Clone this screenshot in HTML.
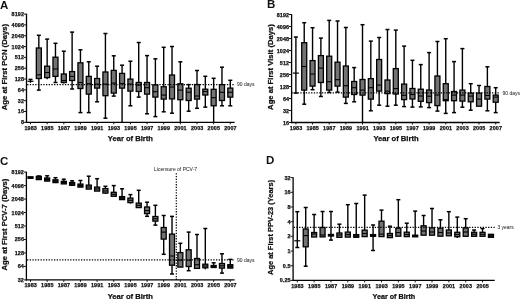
<!DOCTYPE html>
<html><head><meta charset="utf-8"><style>
html,body{margin:0;padding:0;background:#fff;width:520px;height:299px;overflow:hidden}
svg{display:block;will-change:transform;filter:blur(0.25px)}
text{font-family:"Liberation Sans", sans-serif;fill:#111}
.tk{font-size:5.4px;font-weight:bold;letter-spacing:0.12px;stroke:#111;stroke-width:0.25px}
.rl{font-size:5px;font-weight:normal}
.pl{font-size:11.5px;font-weight:bold}
.at{font-size:7.5px;font-weight:bold;stroke:#111;stroke-width:0.25px}
</style></head><body>
<svg width="520" height="299" viewBox="0 0 520 299">
<line x1="26.5" y1="13.7" x2="26.5" y2="122.95" stroke="#000" stroke-width="1.3"/>
<line x1="25.85" y1="122.3" x2="234.6" y2="122.3" stroke="#000" stroke-width="1.3"/>
<line x1="23.9" y1="122.30" x2="26.5" y2="122.30" stroke="#141414" stroke-width="1"/>
<text x="24.10" y="124.30" class="tk" text-anchor="end">8</text>
<line x1="23.9" y1="111.48" x2="26.5" y2="111.48" stroke="#141414" stroke-width="1"/>
<text x="24.10" y="113.48" class="tk" text-anchor="end">16</text>
<line x1="23.9" y1="100.66" x2="26.5" y2="100.66" stroke="#141414" stroke-width="1"/>
<text x="24.10" y="102.66" class="tk" text-anchor="end">32</text>
<line x1="23.9" y1="89.84" x2="26.5" y2="89.84" stroke="#141414" stroke-width="1"/>
<text x="24.10" y="91.84" class="tk" text-anchor="end">64</text>
<line x1="23.9" y1="79.02" x2="26.5" y2="79.02" stroke="#141414" stroke-width="1"/>
<text x="24.10" y="81.02" class="tk" text-anchor="end">128</text>
<line x1="23.9" y1="68.20" x2="26.5" y2="68.20" stroke="#141414" stroke-width="1"/>
<text x="24.10" y="70.20" class="tk" text-anchor="end">256</text>
<line x1="23.9" y1="57.38" x2="26.5" y2="57.38" stroke="#141414" stroke-width="1"/>
<text x="24.10" y="59.38" class="tk" text-anchor="end">512</text>
<line x1="23.9" y1="46.56" x2="26.5" y2="46.56" stroke="#141414" stroke-width="1"/>
<text x="24.10" y="48.56" class="tk" text-anchor="end">1024</text>
<line x1="23.9" y1="35.74" x2="26.5" y2="35.74" stroke="#141414" stroke-width="1"/>
<text x="24.10" y="37.74" class="tk" text-anchor="end">2048</text>
<line x1="23.9" y1="24.92" x2="26.5" y2="24.92" stroke="#141414" stroke-width="1"/>
<text x="24.10" y="26.92" class="tk" text-anchor="end">4096</text>
<line x1="23.9" y1="14.10" x2="26.5" y2="14.10" stroke="#141414" stroke-width="1"/>
<text x="24.10" y="16.10" class="tk" text-anchor="end">8192</text>
<line x1="30.50" y1="122.3" x2="30.50" y2="124.3" stroke="#141414" stroke-width="1"/>
<text x="30.65" y="129.70" class="tk" text-anchor="middle">1983</text>
<line x1="47.15" y1="122.3" x2="47.15" y2="124.3" stroke="#141414" stroke-width="1"/>
<text x="47.30" y="129.70" class="tk" text-anchor="middle">1985</text>
<line x1="63.80" y1="122.3" x2="63.80" y2="124.3" stroke="#141414" stroke-width="1"/>
<text x="63.95" y="129.70" class="tk" text-anchor="middle">1987</text>
<line x1="80.45" y1="122.3" x2="80.45" y2="124.3" stroke="#141414" stroke-width="1"/>
<text x="80.60" y="129.70" class="tk" text-anchor="middle">1989</text>
<line x1="97.10" y1="122.3" x2="97.10" y2="124.3" stroke="#141414" stroke-width="1"/>
<text x="97.25" y="129.70" class="tk" text-anchor="middle">1991</text>
<line x1="113.75" y1="122.3" x2="113.75" y2="124.3" stroke="#141414" stroke-width="1"/>
<text x="113.90" y="129.70" class="tk" text-anchor="middle">1993</text>
<line x1="130.40" y1="122.3" x2="130.40" y2="124.3" stroke="#141414" stroke-width="1"/>
<text x="130.55" y="129.70" class="tk" text-anchor="middle">1995</text>
<line x1="147.05" y1="122.3" x2="147.05" y2="124.3" stroke="#141414" stroke-width="1"/>
<text x="147.20" y="129.70" class="tk" text-anchor="middle">1997</text>
<line x1="163.70" y1="122.3" x2="163.70" y2="124.3" stroke="#141414" stroke-width="1"/>
<text x="163.85" y="129.70" class="tk" text-anchor="middle">1999</text>
<line x1="180.35" y1="122.3" x2="180.35" y2="124.3" stroke="#141414" stroke-width="1"/>
<text x="180.50" y="129.70" class="tk" text-anchor="middle">2001</text>
<line x1="197.00" y1="122.3" x2="197.00" y2="124.3" stroke="#141414" stroke-width="1"/>
<text x="197.15" y="129.70" class="tk" text-anchor="middle">2003</text>
<line x1="213.65" y1="122.3" x2="213.65" y2="124.3" stroke="#141414" stroke-width="1"/>
<text x="213.80" y="129.70" class="tk" text-anchor="middle">2005</text>
<line x1="230.30" y1="122.3" x2="230.30" y2="124.3" stroke="#141414" stroke-width="1"/>
<text x="230.45" y="129.70" class="tk" text-anchor="middle">2007</text>
<text x="237.1" y="86.40" class="rl">90 days</text>
<line x1="30.50" y1="79.4" x2="30.50" y2="81.3" stroke="#000" stroke-width="1.4"/>
<line x1="28.50" y1="79.4" x2="32.50" y2="79.4" stroke="#000" stroke-width="1.5"/>
<line x1="30.50" y1="81.3" x2="30.50" y2="82.8" stroke="#000" stroke-width="1.4"/>
<line x1="27.50" y1="81.3" x2="33.50" y2="81.3" stroke="#000" stroke-width="1.2"/>
<line x1="38.83" y1="35.3" x2="38.83" y2="48.0" stroke="#000" stroke-width="1.4"/>
<line x1="36.83" y1="35.3" x2="40.83" y2="35.3" stroke="#000" stroke-width="1.5"/>
<line x1="38.83" y1="78.5" x2="38.83" y2="90.1" stroke="#000" stroke-width="1.4"/>
<line x1="36.83" y1="90.1" x2="40.83" y2="90.1" stroke="#000" stroke-width="1.5"/>
<rect x="36.33" y="48.0" width="5.0" height="30.50" fill="#737373" stroke="#000" stroke-width="1.3"/>
<line x1="36.33" y1="74.8" x2="41.33" y2="74.8" stroke="#000" stroke-width="1.1"/>
<line x1="47.15" y1="39.1" x2="47.15" y2="66.2" stroke="#000" stroke-width="1.4"/>
<line x1="45.15" y1="39.1" x2="49.15" y2="39.1" stroke="#000" stroke-width="1.5"/>
<line x1="47.15" y1="77.6" x2="47.15" y2="79.2" stroke="#000" stroke-width="1.4"/>
<rect x="44.65" y="66.2" width="5.0" height="11.40" fill="#737373" stroke="#000" stroke-width="1.3"/>
<line x1="44.65" y1="72.5" x2="49.65" y2="72.5" stroke="#000" stroke-width="1.1"/>
<line x1="55.47" y1="43.3" x2="55.47" y2="57.2" stroke="#000" stroke-width="1.4"/>
<line x1="53.47" y1="43.3" x2="57.47" y2="43.3" stroke="#000" stroke-width="1.5"/>
<line x1="55.47" y1="76.4" x2="55.47" y2="82.5" stroke="#000" stroke-width="1.4"/>
<line x1="53.47" y1="82.5" x2="57.47" y2="82.5" stroke="#000" stroke-width="1.5"/>
<rect x="52.97" y="57.2" width="5.0" height="19.20" fill="#737373" stroke="#000" stroke-width="1.3"/>
<line x1="52.97" y1="69.0" x2="57.97" y2="69.0" stroke="#000" stroke-width="1.1"/>
<line x1="63.80" y1="51.2" x2="63.80" y2="74.0" stroke="#000" stroke-width="1.4"/>
<line x1="61.80" y1="51.2" x2="65.80" y2="51.2" stroke="#000" stroke-width="1.5"/>
<line x1="63.80" y1="82.5" x2="63.80" y2="83.5" stroke="#000" stroke-width="1.4"/>
<rect x="61.30" y="74.0" width="5.0" height="8.50" fill="#737373" stroke="#000" stroke-width="1.3"/>
<line x1="61.30" y1="80.5" x2="66.30" y2="80.5" stroke="#000" stroke-width="1.1"/>
<line x1="72.12" y1="32.1" x2="72.12" y2="71.6" stroke="#000" stroke-width="1.4"/>
<line x1="70.12" y1="32.1" x2="74.12" y2="32.1" stroke="#000" stroke-width="1.5"/>
<line x1="72.12" y1="80.5" x2="72.12" y2="89.0" stroke="#000" stroke-width="1.4"/>
<line x1="70.12" y1="89.0" x2="74.12" y2="89.0" stroke="#000" stroke-width="1.5"/>
<rect x="69.62" y="71.6" width="5.0" height="8.90" fill="#737373" stroke="#000" stroke-width="1.3"/>
<line x1="69.62" y1="76.4" x2="74.62" y2="76.4" stroke="#000" stroke-width="1.1"/>
<line x1="80.45" y1="49.8" x2="80.45" y2="62.8" stroke="#000" stroke-width="1.4"/>
<line x1="78.45" y1="49.8" x2="82.45" y2="49.8" stroke="#000" stroke-width="1.5"/>
<line x1="80.45" y1="88.5" x2="80.45" y2="112.6" stroke="#000" stroke-width="1.4"/>
<line x1="78.45" y1="112.6" x2="82.45" y2="112.6" stroke="#000" stroke-width="1.5"/>
<rect x="77.95" y="62.8" width="5.0" height="25.70" fill="#737373" stroke="#000" stroke-width="1.3"/>
<line x1="77.95" y1="82.5" x2="82.95" y2="82.5" stroke="#000" stroke-width="1.1"/>
<line x1="88.77" y1="61.8" x2="88.77" y2="76.4" stroke="#000" stroke-width="1.4"/>
<line x1="86.77" y1="61.8" x2="90.77" y2="61.8" stroke="#000" stroke-width="1.5"/>
<line x1="88.77" y1="94.1" x2="88.77" y2="112.6" stroke="#000" stroke-width="1.4"/>
<line x1="86.77" y1="112.6" x2="90.77" y2="112.6" stroke="#000" stroke-width="1.5"/>
<rect x="86.27" y="76.4" width="5.0" height="17.70" fill="#737373" stroke="#000" stroke-width="1.3"/>
<line x1="86.27" y1="83.7" x2="91.27" y2="83.7" stroke="#000" stroke-width="1.1"/>
<line x1="97.10" y1="66.2" x2="97.10" y2="78.5" stroke="#000" stroke-width="1.4"/>
<line x1="95.10" y1="66.2" x2="99.10" y2="66.2" stroke="#000" stroke-width="1.5"/>
<line x1="97.10" y1="88.1" x2="97.10" y2="101.8" stroke="#000" stroke-width="1.4"/>
<line x1="95.10" y1="101.8" x2="99.10" y2="101.8" stroke="#000" stroke-width="1.5"/>
<rect x="94.60" y="78.5" width="5.0" height="9.60" fill="#737373" stroke="#000" stroke-width="1.3"/>
<line x1="94.60" y1="84.1" x2="99.60" y2="84.1" stroke="#000" stroke-width="1.1"/>
<line x1="105.42" y1="33.5" x2="105.42" y2="72.0" stroke="#000" stroke-width="1.4"/>
<line x1="103.42" y1="33.5" x2="107.42" y2="33.5" stroke="#000" stroke-width="1.5"/>
<line x1="105.42" y1="95.7" x2="105.42" y2="118.2" stroke="#000" stroke-width="1.4"/>
<line x1="103.42" y1="118.2" x2="107.42" y2="118.2" stroke="#000" stroke-width="1.5"/>
<rect x="102.92" y="72.0" width="5.0" height="23.70" fill="#737373" stroke="#000" stroke-width="1.3"/>
<line x1="102.92" y1="84.1" x2="107.92" y2="84.1" stroke="#000" stroke-width="1.1"/>
<line x1="113.75" y1="55.8" x2="113.75" y2="70.4" stroke="#000" stroke-width="1.4"/>
<line x1="111.75" y1="55.8" x2="115.75" y2="55.8" stroke="#000" stroke-width="1.5"/>
<line x1="113.75" y1="93.1" x2="113.75" y2="96.1" stroke="#000" stroke-width="1.4"/>
<line x1="111.75" y1="96.1" x2="115.75" y2="96.1" stroke="#000" stroke-width="1.5"/>
<rect x="111.25" y="70.4" width="5.0" height="22.70" fill="#737373" stroke="#000" stroke-width="1.3"/>
<line x1="111.25" y1="83.1" x2="116.25" y2="83.1" stroke="#000" stroke-width="1.1"/>
<line x1="122.07" y1="65.2" x2="122.07" y2="73.4" stroke="#000" stroke-width="1.4"/>
<line x1="120.07" y1="65.2" x2="124.07" y2="65.2" stroke="#000" stroke-width="1.5"/>
<line x1="122.07" y1="88.1" x2="122.07" y2="122.2" stroke="#000" stroke-width="1.4"/>
<rect x="119.57" y="73.4" width="5.0" height="14.70" fill="#737373" stroke="#000" stroke-width="1.3"/>
<line x1="119.57" y1="83.5" x2="124.57" y2="83.5" stroke="#000" stroke-width="1.1"/>
<line x1="130.40" y1="61.2" x2="130.40" y2="79.1" stroke="#000" stroke-width="1.4"/>
<line x1="128.40" y1="61.2" x2="132.40" y2="61.2" stroke="#000" stroke-width="1.5"/>
<line x1="130.40" y1="91.1" x2="130.40" y2="105.8" stroke="#000" stroke-width="1.4"/>
<line x1="128.40" y1="105.8" x2="132.40" y2="105.8" stroke="#000" stroke-width="1.5"/>
<rect x="127.90" y="79.1" width="5.0" height="12.00" fill="#737373" stroke="#000" stroke-width="1.3"/>
<line x1="127.90" y1="84.1" x2="132.90" y2="84.1" stroke="#000" stroke-width="1.1"/>
<line x1="138.72" y1="42.5" x2="138.72" y2="82.5" stroke="#000" stroke-width="1.4"/>
<line x1="136.72" y1="42.5" x2="140.72" y2="42.5" stroke="#000" stroke-width="1.5"/>
<line x1="138.72" y1="91.5" x2="138.72" y2="97.1" stroke="#000" stroke-width="1.4"/>
<line x1="136.72" y1="97.1" x2="140.72" y2="97.1" stroke="#000" stroke-width="1.5"/>
<rect x="136.22" y="82.5" width="5.0" height="9.00" fill="#737373" stroke="#000" stroke-width="1.3"/>
<line x1="136.22" y1="85.1" x2="141.22" y2="85.1" stroke="#000" stroke-width="1.1"/>
<line x1="147.05" y1="55.6" x2="147.05" y2="82.5" stroke="#000" stroke-width="1.4"/>
<line x1="145.05" y1="55.6" x2="149.05" y2="55.6" stroke="#000" stroke-width="1.5"/>
<line x1="147.05" y1="94.1" x2="147.05" y2="113.8" stroke="#000" stroke-width="1.4"/>
<line x1="145.05" y1="113.8" x2="149.05" y2="113.8" stroke="#000" stroke-width="1.5"/>
<rect x="144.55" y="82.5" width="5.0" height="11.60" fill="#737373" stroke="#000" stroke-width="1.3"/>
<line x1="144.55" y1="87.7" x2="149.55" y2="87.7" stroke="#000" stroke-width="1.1"/>
<line x1="155.38" y1="58.8" x2="155.38" y2="84.9" stroke="#000" stroke-width="1.4"/>
<line x1="153.38" y1="58.8" x2="157.38" y2="58.8" stroke="#000" stroke-width="1.5"/>
<line x1="155.38" y1="97.1" x2="155.38" y2="116.6" stroke="#000" stroke-width="1.4"/>
<line x1="153.38" y1="116.6" x2="157.38" y2="116.6" stroke="#000" stroke-width="1.5"/>
<rect x="152.88" y="84.9" width="5.0" height="12.20" fill="#737373" stroke="#000" stroke-width="1.3"/>
<line x1="152.88" y1="91.7" x2="157.88" y2="91.7" stroke="#000" stroke-width="1.1"/>
<line x1="163.70" y1="47.3" x2="163.70" y2="86.7" stroke="#000" stroke-width="1.4"/>
<line x1="161.70" y1="47.3" x2="165.70" y2="47.3" stroke="#000" stroke-width="1.5"/>
<line x1="163.70" y1="99.1" x2="163.70" y2="111.8" stroke="#000" stroke-width="1.4"/>
<line x1="161.70" y1="111.8" x2="165.70" y2="111.8" stroke="#000" stroke-width="1.5"/>
<rect x="161.20" y="86.7" width="5.0" height="12.40" fill="#737373" stroke="#000" stroke-width="1.3"/>
<line x1="161.20" y1="95.1" x2="166.20" y2="95.1" stroke="#000" stroke-width="1.1"/>
<line x1="172.02" y1="46.5" x2="172.02" y2="75.0" stroke="#000" stroke-width="1.4"/>
<line x1="170.02" y1="46.5" x2="174.02" y2="46.5" stroke="#000" stroke-width="1.5"/>
<line x1="172.02" y1="98.9" x2="172.02" y2="113.2" stroke="#000" stroke-width="1.4"/>
<line x1="170.02" y1="113.2" x2="174.02" y2="113.2" stroke="#000" stroke-width="1.5"/>
<rect x="169.52" y="75.0" width="5.0" height="23.90" fill="#737373" stroke="#000" stroke-width="1.3"/>
<line x1="169.52" y1="87.0" x2="174.52" y2="87.0" stroke="#000" stroke-width="1.1"/>
<line x1="180.35" y1="61.8" x2="180.35" y2="83.8" stroke="#000" stroke-width="1.4"/>
<line x1="178.35" y1="61.8" x2="182.35" y2="61.8" stroke="#000" stroke-width="1.5"/>
<line x1="180.35" y1="99.7" x2="180.35" y2="122.2" stroke="#000" stroke-width="1.4"/>
<rect x="177.85" y="83.8" width="5.0" height="15.90" fill="#737373" stroke="#000" stroke-width="1.3"/>
<line x1="177.85" y1="90.1" x2="182.85" y2="90.1" stroke="#000" stroke-width="1.1"/>
<line x1="188.67" y1="84.6" x2="188.67" y2="88.2" stroke="#000" stroke-width="1.4"/>
<line x1="186.67" y1="84.6" x2="190.67" y2="84.6" stroke="#000" stroke-width="1.5"/>
<line x1="188.67" y1="100.5" x2="188.67" y2="111.2" stroke="#000" stroke-width="1.4"/>
<line x1="186.67" y1="111.2" x2="190.67" y2="111.2" stroke="#000" stroke-width="1.5"/>
<rect x="186.17" y="88.2" width="5.0" height="12.30" fill="#737373" stroke="#000" stroke-width="1.3"/>
<line x1="186.17" y1="92.2" x2="191.17" y2="92.2" stroke="#000" stroke-width="1.1"/>
<line x1="197.00" y1="70.5" x2="197.00" y2="84.5" stroke="#000" stroke-width="1.4"/>
<line x1="195.00" y1="70.5" x2="199.00" y2="70.5" stroke="#000" stroke-width="1.5"/>
<line x1="197.00" y1="99.1" x2="197.00" y2="108.3" stroke="#000" stroke-width="1.4"/>
<line x1="195.00" y1="108.3" x2="199.00" y2="108.3" stroke="#000" stroke-width="1.5"/>
<rect x="194.50" y="84.5" width="5.0" height="14.60" fill="#737373" stroke="#000" stroke-width="1.3"/>
<line x1="194.50" y1="96.0" x2="199.50" y2="96.0" stroke="#000" stroke-width="1.1"/>
<line x1="205.32" y1="76.3" x2="205.32" y2="89.2" stroke="#000" stroke-width="1.4"/>
<line x1="203.32" y1="76.3" x2="207.32" y2="76.3" stroke="#000" stroke-width="1.5"/>
<line x1="205.32" y1="95.0" x2="205.32" y2="107.1" stroke="#000" stroke-width="1.4"/>
<line x1="203.32" y1="107.1" x2="207.32" y2="107.1" stroke="#000" stroke-width="1.5"/>
<rect x="202.82" y="89.2" width="5.0" height="5.80" fill="#737373" stroke="#000" stroke-width="1.3"/>
<line x1="202.82" y1="91.5" x2="207.82" y2="91.5" stroke="#000" stroke-width="1.1"/>
<line x1="213.65" y1="78.3" x2="213.65" y2="89.3" stroke="#000" stroke-width="1.4"/>
<line x1="211.65" y1="78.3" x2="215.65" y2="78.3" stroke="#000" stroke-width="1.5"/>
<line x1="213.65" y1="105.8" x2="213.65" y2="122.2" stroke="#000" stroke-width="1.4"/>
<rect x="211.15" y="89.3" width="5.0" height="16.50" fill="#737373" stroke="#000" stroke-width="1.3"/>
<line x1="211.15" y1="97.7" x2="216.15" y2="97.7" stroke="#000" stroke-width="1.1"/>
<line x1="221.97" y1="67.2" x2="221.97" y2="84.6" stroke="#000" stroke-width="1.4"/>
<line x1="219.97" y1="67.2" x2="223.97" y2="67.2" stroke="#000" stroke-width="1.5"/>
<line x1="221.97" y1="100.5" x2="221.97" y2="105.8" stroke="#000" stroke-width="1.4"/>
<line x1="219.97" y1="105.8" x2="223.97" y2="105.8" stroke="#000" stroke-width="1.5"/>
<rect x="219.47" y="84.6" width="5.0" height="15.90" fill="#737373" stroke="#000" stroke-width="1.3"/>
<line x1="219.47" y1="92.3" x2="224.47" y2="92.3" stroke="#000" stroke-width="1.1"/>
<line x1="230.30" y1="80.3" x2="230.30" y2="88.1" stroke="#000" stroke-width="1.4"/>
<line x1="228.30" y1="80.3" x2="232.30" y2="80.3" stroke="#000" stroke-width="1.5"/>
<line x1="230.30" y1="97.1" x2="230.30" y2="105.8" stroke="#000" stroke-width="1.4"/>
<line x1="228.30" y1="105.8" x2="232.30" y2="105.8" stroke="#000" stroke-width="1.5"/>
<rect x="227.80" y="88.1" width="5.0" height="9.00" fill="#737373" stroke="#000" stroke-width="1.3"/>
<line x1="227.80" y1="92.3" x2="232.80" y2="92.3" stroke="#000" stroke-width="1.1"/>
<line x1="27.1" y1="84.6" x2="234.6" y2="84.6" stroke="#000" stroke-width="1.3" stroke-dasharray="1.3 1.4"/>
<text x="0.1" y="8.6" class="pl">A</text>
<text x="7.4" y="67.05" class="at" text-anchor="middle" transform="rotate(-90 7.4 67.05)" style="font-size:7.7px">Age at First PCN (Days)</text>
<line x1="291.6" y1="14.1" x2="291.6" y2="123.15" stroke="#000" stroke-width="1.3"/>
<line x1="290.95000000000005" y1="122.5" x2="499.7" y2="122.5" stroke="#000" stroke-width="1.3"/>
<line x1="289.0" y1="122.50" x2="291.6" y2="122.50" stroke="#141414" stroke-width="1"/>
<text x="289.20" y="124.50" class="tk" text-anchor="end">16</text>
<line x1="289.0" y1="110.50" x2="291.6" y2="110.50" stroke="#141414" stroke-width="1"/>
<text x="289.20" y="112.50" class="tk" text-anchor="end">32</text>
<line x1="289.0" y1="98.50" x2="291.6" y2="98.50" stroke="#141414" stroke-width="1"/>
<text x="289.20" y="100.50" class="tk" text-anchor="end">64</text>
<line x1="289.0" y1="86.50" x2="291.6" y2="86.50" stroke="#141414" stroke-width="1"/>
<text x="289.20" y="88.50" class="tk" text-anchor="end">128</text>
<line x1="289.0" y1="74.50" x2="291.6" y2="74.50" stroke="#141414" stroke-width="1"/>
<text x="289.20" y="76.50" class="tk" text-anchor="end">256</text>
<line x1="289.0" y1="62.50" x2="291.6" y2="62.50" stroke="#141414" stroke-width="1"/>
<text x="289.20" y="64.50" class="tk" text-anchor="end">512</text>
<line x1="289.0" y1="50.50" x2="291.6" y2="50.50" stroke="#141414" stroke-width="1"/>
<text x="289.20" y="52.50" class="tk" text-anchor="end">1024</text>
<line x1="289.0" y1="38.50" x2="291.6" y2="38.50" stroke="#141414" stroke-width="1"/>
<text x="289.20" y="40.50" class="tk" text-anchor="end">2048</text>
<line x1="289.0" y1="26.50" x2="291.6" y2="26.50" stroke="#141414" stroke-width="1"/>
<text x="289.20" y="28.50" class="tk" text-anchor="end">4096</text>
<line x1="289.0" y1="14.50" x2="291.6" y2="14.50" stroke="#141414" stroke-width="1"/>
<text x="289.20" y="16.50" class="tk" text-anchor="end">8192</text>
<line x1="295.90" y1="122.5" x2="295.90" y2="124.5" stroke="#141414" stroke-width="1"/>
<text x="296.05" y="129.90" class="tk" text-anchor="middle">1983</text>
<line x1="312.55" y1="122.5" x2="312.55" y2="124.5" stroke="#141414" stroke-width="1"/>
<text x="312.70" y="129.90" class="tk" text-anchor="middle">1985</text>
<line x1="329.20" y1="122.5" x2="329.20" y2="124.5" stroke="#141414" stroke-width="1"/>
<text x="329.35" y="129.90" class="tk" text-anchor="middle">1987</text>
<line x1="345.85" y1="122.5" x2="345.85" y2="124.5" stroke="#141414" stroke-width="1"/>
<text x="346.00" y="129.90" class="tk" text-anchor="middle">1989</text>
<line x1="362.50" y1="122.5" x2="362.50" y2="124.5" stroke="#141414" stroke-width="1"/>
<text x="362.65" y="129.90" class="tk" text-anchor="middle">1991</text>
<line x1="379.15" y1="122.5" x2="379.15" y2="124.5" stroke="#141414" stroke-width="1"/>
<text x="379.30" y="129.90" class="tk" text-anchor="middle">1993</text>
<line x1="395.80" y1="122.5" x2="395.80" y2="124.5" stroke="#141414" stroke-width="1"/>
<text x="395.95" y="129.90" class="tk" text-anchor="middle">1995</text>
<line x1="412.45" y1="122.5" x2="412.45" y2="124.5" stroke="#141414" stroke-width="1"/>
<text x="412.60" y="129.90" class="tk" text-anchor="middle">1997</text>
<line x1="429.10" y1="122.5" x2="429.10" y2="124.5" stroke="#141414" stroke-width="1"/>
<text x="429.25" y="129.90" class="tk" text-anchor="middle">1999</text>
<line x1="445.75" y1="122.5" x2="445.75" y2="124.5" stroke="#141414" stroke-width="1"/>
<text x="445.90" y="129.90" class="tk" text-anchor="middle">2001</text>
<line x1="462.40" y1="122.5" x2="462.40" y2="124.5" stroke="#141414" stroke-width="1"/>
<text x="462.55" y="129.90" class="tk" text-anchor="middle">2003</text>
<line x1="479.05" y1="122.5" x2="479.05" y2="124.5" stroke="#141414" stroke-width="1"/>
<text x="479.20" y="129.90" class="tk" text-anchor="middle">2005</text>
<line x1="495.70" y1="122.5" x2="495.70" y2="124.5" stroke="#141414" stroke-width="1"/>
<text x="495.85" y="129.90" class="tk" text-anchor="middle">2007</text>
<text x="502.5" y="94.60" class="rl">90 days</text>
<line x1="295.90" y1="37.0" x2="295.90" y2="73.1" stroke="#000" stroke-width="1.4"/>
<line x1="293.90" y1="37.0" x2="297.90" y2="37.0" stroke="#000" stroke-width="1.5"/>
<line x1="295.90" y1="73.1" x2="295.90" y2="93.1" stroke="#000" stroke-width="1.4"/>
<line x1="293.90" y1="93.1" x2="297.90" y2="93.1" stroke="#000" stroke-width="1.5"/>
<line x1="292.90" y1="73.1" x2="298.90" y2="73.1" stroke="#000" stroke-width="1.2"/>
<line x1="304.22" y1="22.7" x2="304.22" y2="42.7" stroke="#000" stroke-width="1.4"/>
<line x1="302.22" y1="22.7" x2="306.22" y2="22.7" stroke="#000" stroke-width="1.5"/>
<line x1="304.22" y1="90.1" x2="304.22" y2="104.2" stroke="#000" stroke-width="1.4"/>
<line x1="302.22" y1="104.2" x2="306.22" y2="104.2" stroke="#000" stroke-width="1.5"/>
<rect x="301.72" y="42.7" width="5.0" height="47.40" fill="#737373" stroke="#000" stroke-width="1.3"/>
<line x1="301.72" y1="66.5" x2="306.72" y2="66.5" stroke="#000" stroke-width="1.1"/>
<line x1="312.55" y1="27.7" x2="312.55" y2="60.6" stroke="#000" stroke-width="1.4"/>
<line x1="310.55" y1="27.7" x2="314.55" y2="27.7" stroke="#000" stroke-width="1.5"/>
<line x1="312.55" y1="86.1" x2="312.55" y2="89.7" stroke="#000" stroke-width="1.4"/>
<line x1="310.55" y1="89.7" x2="314.55" y2="89.7" stroke="#000" stroke-width="1.5"/>
<rect x="310.05" y="60.6" width="5.0" height="25.50" fill="#737373" stroke="#000" stroke-width="1.3"/>
<line x1="310.05" y1="74.0" x2="315.05" y2="74.0" stroke="#000" stroke-width="1.1"/>
<line x1="320.88" y1="38.1" x2="320.88" y2="55.6" stroke="#000" stroke-width="1.4"/>
<line x1="318.88" y1="38.1" x2="322.88" y2="38.1" stroke="#000" stroke-width="1.5"/>
<line x1="320.88" y1="82.5" x2="320.88" y2="96.5" stroke="#000" stroke-width="1.4"/>
<line x1="318.88" y1="96.5" x2="322.88" y2="96.5" stroke="#000" stroke-width="1.5"/>
<rect x="318.38" y="55.6" width="5.0" height="26.90" fill="#737373" stroke="#000" stroke-width="1.3"/>
<line x1="318.38" y1="68.1" x2="323.38" y2="68.1" stroke="#000" stroke-width="1.1"/>
<line x1="329.20" y1="20.4" x2="329.20" y2="56.2" stroke="#000" stroke-width="1.4"/>
<line x1="327.20" y1="20.4" x2="331.20" y2="20.4" stroke="#000" stroke-width="1.5"/>
<line x1="329.20" y1="90.1" x2="329.20" y2="92.5" stroke="#000" stroke-width="1.4"/>
<line x1="327.20" y1="92.5" x2="331.20" y2="92.5" stroke="#000" stroke-width="1.5"/>
<rect x="326.70" y="56.2" width="5.0" height="33.90" fill="#737373" stroke="#000" stroke-width="1.3"/>
<line x1="326.70" y1="81.7" x2="331.70" y2="81.7" stroke="#000" stroke-width="1.1"/>
<line x1="337.52" y1="21.0" x2="337.52" y2="62.2" stroke="#000" stroke-width="1.4"/>
<line x1="335.52" y1="21.0" x2="339.52" y2="21.0" stroke="#000" stroke-width="1.5"/>
<line x1="337.52" y1="86.1" x2="337.52" y2="92.1" stroke="#000" stroke-width="1.4"/>
<line x1="335.52" y1="92.1" x2="339.52" y2="92.1" stroke="#000" stroke-width="1.5"/>
<rect x="335.02" y="62.2" width="5.0" height="23.90" fill="#737373" stroke="#000" stroke-width="1.3"/>
<line x1="335.02" y1="79.7" x2="340.02" y2="79.7" stroke="#000" stroke-width="1.1"/>
<line x1="345.85" y1="27.5" x2="345.85" y2="66.0" stroke="#000" stroke-width="1.4"/>
<line x1="343.85" y1="27.5" x2="347.85" y2="27.5" stroke="#000" stroke-width="1.5"/>
<line x1="345.85" y1="97.1" x2="345.85" y2="103.4" stroke="#000" stroke-width="1.4"/>
<line x1="343.85" y1="103.4" x2="347.85" y2="103.4" stroke="#000" stroke-width="1.5"/>
<rect x="343.35" y="66.0" width="5.0" height="31.10" fill="#737373" stroke="#000" stroke-width="1.3"/>
<line x1="343.35" y1="85.7" x2="348.35" y2="85.7" stroke="#000" stroke-width="1.1"/>
<line x1="354.17" y1="67.6" x2="354.17" y2="81.5" stroke="#000" stroke-width="1.4"/>
<line x1="352.17" y1="67.6" x2="356.17" y2="67.6" stroke="#000" stroke-width="1.5"/>
<line x1="354.17" y1="94.5" x2="354.17" y2="101.8" stroke="#000" stroke-width="1.4"/>
<line x1="352.17" y1="101.8" x2="356.17" y2="101.8" stroke="#000" stroke-width="1.5"/>
<rect x="351.67" y="81.5" width="5.0" height="13.00" fill="#737373" stroke="#000" stroke-width="1.3"/>
<line x1="351.67" y1="87.7" x2="356.67" y2="87.7" stroke="#000" stroke-width="1.1"/>
<line x1="362.50" y1="24.7" x2="362.50" y2="79.5" stroke="#000" stroke-width="1.4"/>
<line x1="360.50" y1="24.7" x2="364.50" y2="24.7" stroke="#000" stroke-width="1.5"/>
<line x1="362.50" y1="95.1" x2="362.50" y2="122.7" stroke="#000" stroke-width="1.4"/>
<rect x="360.00" y="79.5" width="5.0" height="15.60" fill="#737373" stroke="#000" stroke-width="1.3"/>
<line x1="360.00" y1="90.1" x2="365.00" y2="90.1" stroke="#000" stroke-width="1.1"/>
<line x1="370.82" y1="41.1" x2="370.82" y2="78.6" stroke="#000" stroke-width="1.4"/>
<line x1="368.82" y1="41.1" x2="372.82" y2="41.1" stroke="#000" stroke-width="1.5"/>
<line x1="370.82" y1="99.1" x2="370.82" y2="110.8" stroke="#000" stroke-width="1.4"/>
<line x1="368.82" y1="110.8" x2="372.82" y2="110.8" stroke="#000" stroke-width="1.5"/>
<rect x="368.32" y="78.6" width="5.0" height="20.50" fill="#737373" stroke="#000" stroke-width="1.3"/>
<line x1="368.32" y1="87.7" x2="373.32" y2="87.7" stroke="#000" stroke-width="1.1"/>
<line x1="379.15" y1="37.5" x2="379.15" y2="59.5" stroke="#000" stroke-width="1.4"/>
<line x1="377.15" y1="37.5" x2="381.15" y2="37.5" stroke="#000" stroke-width="1.5"/>
<line x1="379.15" y1="91.1" x2="379.15" y2="105.2" stroke="#000" stroke-width="1.4"/>
<line x1="377.15" y1="105.2" x2="381.15" y2="105.2" stroke="#000" stroke-width="1.5"/>
<rect x="376.65" y="59.5" width="5.0" height="31.60" fill="#737373" stroke="#000" stroke-width="1.3"/>
<line x1="376.65" y1="85.1" x2="381.65" y2="85.1" stroke="#000" stroke-width="1.1"/>
<line x1="387.47" y1="29.5" x2="387.47" y2="80.0" stroke="#000" stroke-width="1.4"/>
<line x1="385.47" y1="29.5" x2="389.47" y2="29.5" stroke="#000" stroke-width="1.5"/>
<line x1="387.47" y1="93.6" x2="387.47" y2="106.2" stroke="#000" stroke-width="1.4"/>
<line x1="385.47" y1="106.2" x2="389.47" y2="106.2" stroke="#000" stroke-width="1.5"/>
<rect x="384.97" y="80.0" width="5.0" height="13.60" fill="#737373" stroke="#000" stroke-width="1.3"/>
<line x1="384.97" y1="91.1" x2="389.97" y2="91.1" stroke="#000" stroke-width="1.1"/>
<line x1="395.80" y1="30.1" x2="395.80" y2="68.6" stroke="#000" stroke-width="1.4"/>
<line x1="393.80" y1="30.1" x2="397.80" y2="30.1" stroke="#000" stroke-width="1.5"/>
<line x1="395.80" y1="94.0" x2="395.80" y2="105.2" stroke="#000" stroke-width="1.4"/>
<line x1="393.80" y1="105.2" x2="397.80" y2="105.2" stroke="#000" stroke-width="1.5"/>
<rect x="393.30" y="68.6" width="5.0" height="25.40" fill="#737373" stroke="#000" stroke-width="1.3"/>
<line x1="393.30" y1="88.6" x2="398.30" y2="88.6" stroke="#000" stroke-width="1.1"/>
<line x1="404.12" y1="46.1" x2="404.12" y2="84.1" stroke="#000" stroke-width="1.4"/>
<line x1="402.12" y1="46.1" x2="406.12" y2="46.1" stroke="#000" stroke-width="1.5"/>
<line x1="404.12" y1="99.6" x2="404.12" y2="106.6" stroke="#000" stroke-width="1.4"/>
<line x1="402.12" y1="106.6" x2="406.12" y2="106.6" stroke="#000" stroke-width="1.5"/>
<rect x="401.62" y="84.1" width="5.0" height="15.50" fill="#737373" stroke="#000" stroke-width="1.3"/>
<line x1="401.62" y1="95.3" x2="406.62" y2="95.3" stroke="#000" stroke-width="1.1"/>
<line x1="412.45" y1="60.3" x2="412.45" y2="88.5" stroke="#000" stroke-width="1.4"/>
<line x1="410.45" y1="60.3" x2="414.45" y2="60.3" stroke="#000" stroke-width="1.5"/>
<line x1="412.45" y1="99.0" x2="412.45" y2="107.1" stroke="#000" stroke-width="1.4"/>
<line x1="410.45" y1="107.1" x2="414.45" y2="107.1" stroke="#000" stroke-width="1.5"/>
<rect x="409.95" y="88.5" width="5.0" height="10.50" fill="#737373" stroke="#000" stroke-width="1.3"/>
<line x1="409.95" y1="94.5" x2="414.95" y2="94.5" stroke="#000" stroke-width="1.1"/>
<line x1="420.77" y1="64.6" x2="420.77" y2="89.2" stroke="#000" stroke-width="1.4"/>
<line x1="418.77" y1="64.6" x2="422.77" y2="64.6" stroke="#000" stroke-width="1.5"/>
<line x1="420.77" y1="101.3" x2="420.77" y2="106.9" stroke="#000" stroke-width="1.4"/>
<line x1="418.77" y1="106.9" x2="422.77" y2="106.9" stroke="#000" stroke-width="1.5"/>
<rect x="418.27" y="89.2" width="5.0" height="12.10" fill="#737373" stroke="#000" stroke-width="1.3"/>
<line x1="418.27" y1="96.0" x2="423.27" y2="96.0" stroke="#000" stroke-width="1.1"/>
<line x1="429.10" y1="52.6" x2="429.10" y2="90.0" stroke="#000" stroke-width="1.4"/>
<line x1="427.10" y1="52.6" x2="431.10" y2="52.6" stroke="#000" stroke-width="1.5"/>
<line x1="429.10" y1="102.6" x2="429.10" y2="107.6" stroke="#000" stroke-width="1.4"/>
<line x1="427.10" y1="107.6" x2="431.10" y2="107.6" stroke="#000" stroke-width="1.5"/>
<rect x="426.60" y="90.0" width="5.0" height="12.60" fill="#737373" stroke="#000" stroke-width="1.3"/>
<line x1="426.60" y1="96.2" x2="431.60" y2="96.2" stroke="#000" stroke-width="1.1"/>
<line x1="437.42" y1="41.5" x2="437.42" y2="76.0" stroke="#000" stroke-width="1.4"/>
<line x1="435.42" y1="41.5" x2="439.42" y2="41.5" stroke="#000" stroke-width="1.5"/>
<line x1="437.42" y1="105.6" x2="437.42" y2="111.1" stroke="#000" stroke-width="1.4"/>
<line x1="435.42" y1="111.1" x2="439.42" y2="111.1" stroke="#000" stroke-width="1.5"/>
<rect x="434.92" y="76.0" width="5.0" height="29.60" fill="#737373" stroke="#000" stroke-width="1.3"/>
<line x1="434.92" y1="95.0" x2="439.92" y2="95.0" stroke="#000" stroke-width="1.1"/>
<line x1="445.75" y1="38.7" x2="445.75" y2="83.7" stroke="#000" stroke-width="1.4"/>
<line x1="443.75" y1="38.7" x2="447.75" y2="38.7" stroke="#000" stroke-width="1.5"/>
<line x1="445.75" y1="100.7" x2="445.75" y2="113.4" stroke="#000" stroke-width="1.4"/>
<line x1="443.75" y1="113.4" x2="447.75" y2="113.4" stroke="#000" stroke-width="1.5"/>
<rect x="443.25" y="83.7" width="5.0" height="17.00" fill="#737373" stroke="#000" stroke-width="1.3"/>
<line x1="443.25" y1="99.6" x2="448.25" y2="99.6" stroke="#000" stroke-width="1.1"/>
<line x1="454.07" y1="61.6" x2="454.07" y2="91.5" stroke="#000" stroke-width="1.4"/>
<line x1="452.07" y1="61.6" x2="456.07" y2="61.6" stroke="#000" stroke-width="1.5"/>
<line x1="454.07" y1="100.7" x2="454.07" y2="112.6" stroke="#000" stroke-width="1.4"/>
<line x1="452.07" y1="112.6" x2="456.07" y2="112.6" stroke="#000" stroke-width="1.5"/>
<rect x="451.57" y="91.5" width="5.0" height="9.20" fill="#737373" stroke="#000" stroke-width="1.3"/>
<line x1="451.57" y1="95.1" x2="456.57" y2="95.1" stroke="#000" stroke-width="1.1"/>
<line x1="462.40" y1="48.6" x2="462.40" y2="90.1" stroke="#000" stroke-width="1.4"/>
<line x1="460.40" y1="48.6" x2="464.40" y2="48.6" stroke="#000" stroke-width="1.5"/>
<line x1="462.40" y1="101.1" x2="462.40" y2="107.2" stroke="#000" stroke-width="1.4"/>
<line x1="460.40" y1="107.2" x2="464.40" y2="107.2" stroke="#000" stroke-width="1.5"/>
<rect x="459.90" y="90.1" width="5.0" height="11.00" fill="#737373" stroke="#000" stroke-width="1.3"/>
<line x1="459.90" y1="95.1" x2="464.90" y2="95.1" stroke="#000" stroke-width="1.1"/>
<line x1="470.72" y1="83.7" x2="470.72" y2="93.1" stroke="#000" stroke-width="1.4"/>
<line x1="468.72" y1="83.7" x2="472.72" y2="83.7" stroke="#000" stroke-width="1.5"/>
<line x1="470.72" y1="101.8" x2="470.72" y2="110.2" stroke="#000" stroke-width="1.4"/>
<line x1="468.72" y1="110.2" x2="472.72" y2="110.2" stroke="#000" stroke-width="1.5"/>
<rect x="468.22" y="93.1" width="5.0" height="8.70" fill="#737373" stroke="#000" stroke-width="1.3"/>
<line x1="468.22" y1="96.1" x2="473.22" y2="96.1" stroke="#000" stroke-width="1.1"/>
<line x1="479.05" y1="85.5" x2="479.05" y2="93.1" stroke="#000" stroke-width="1.4"/>
<line x1="477.05" y1="85.5" x2="481.05" y2="85.5" stroke="#000" stroke-width="1.5"/>
<rect x="476.55" y="93.1" width="5.0" height="13.10" fill="#737373" stroke="#000" stroke-width="1.3"/>
<line x1="476.55" y1="99.1" x2="481.55" y2="99.1" stroke="#000" stroke-width="1.1"/>
<line x1="487.38" y1="66.8" x2="487.38" y2="86.5" stroke="#000" stroke-width="1.4"/>
<line x1="485.38" y1="66.8" x2="489.38" y2="66.8" stroke="#000" stroke-width="1.5"/>
<line x1="487.38" y1="99.1" x2="487.38" y2="110.8" stroke="#000" stroke-width="1.4"/>
<line x1="485.38" y1="110.8" x2="489.38" y2="110.8" stroke="#000" stroke-width="1.5"/>
<rect x="484.88" y="86.5" width="5.0" height="12.60" fill="#737373" stroke="#000" stroke-width="1.3"/>
<line x1="484.88" y1="95.5" x2="489.88" y2="95.5" stroke="#000" stroke-width="1.1"/>
<line x1="495.70" y1="87.7" x2="495.70" y2="95.1" stroke="#000" stroke-width="1.4"/>
<line x1="493.70" y1="87.7" x2="497.70" y2="87.7" stroke="#000" stroke-width="1.5"/>
<line x1="495.70" y1="102.2" x2="495.70" y2="112.6" stroke="#000" stroke-width="1.4"/>
<line x1="493.70" y1="112.6" x2="497.70" y2="112.6" stroke="#000" stroke-width="1.5"/>
<rect x="493.20" y="95.1" width="5.0" height="7.10" fill="#737373" stroke="#000" stroke-width="1.3"/>
<line x1="493.20" y1="97.1" x2="498.20" y2="97.1" stroke="#000" stroke-width="1.1"/>
<line x1="292.20000000000005" y1="92.8" x2="499.7" y2="92.8" stroke="#000" stroke-width="1.3" stroke-dasharray="1.3 1.4"/>
<text x="267.0" y="8.1" class="pl">B</text>
<text x="272.6" y="67.05" class="at" text-anchor="middle" transform="rotate(-90 272.6 67.05)" style="font-size:7.65px">Age at First Visit (Days)</text>
<line x1="26.4" y1="171.7" x2="26.4" y2="280.54999999999995" stroke="#000" stroke-width="1.3"/>
<line x1="25.75" y1="279.9" x2="234.6" y2="279.9" stroke="#000" stroke-width="1.3"/>
<line x1="23.799999999999997" y1="279.90" x2="26.4" y2="279.90" stroke="#141414" stroke-width="1"/>
<text x="24.00" y="281.90" class="tk" text-anchor="end">32</text>
<line x1="23.799999999999997" y1="266.42" x2="26.4" y2="266.42" stroke="#141414" stroke-width="1"/>
<text x="24.00" y="268.42" class="tk" text-anchor="end">64</text>
<line x1="23.799999999999997" y1="252.95" x2="26.4" y2="252.95" stroke="#141414" stroke-width="1"/>
<text x="24.00" y="254.95" class="tk" text-anchor="end">128</text>
<line x1="23.799999999999997" y1="239.47" x2="26.4" y2="239.47" stroke="#141414" stroke-width="1"/>
<text x="24.00" y="241.47" class="tk" text-anchor="end">256</text>
<line x1="23.799999999999997" y1="226.00" x2="26.4" y2="226.00" stroke="#141414" stroke-width="1"/>
<text x="24.00" y="228.00" class="tk" text-anchor="end">512</text>
<line x1="23.799999999999997" y1="212.52" x2="26.4" y2="212.52" stroke="#141414" stroke-width="1"/>
<text x="24.00" y="214.52" class="tk" text-anchor="end">1024</text>
<line x1="23.799999999999997" y1="199.05" x2="26.4" y2="199.05" stroke="#141414" stroke-width="1"/>
<text x="24.00" y="201.05" class="tk" text-anchor="end">2048</text>
<line x1="23.799999999999997" y1="185.57" x2="26.4" y2="185.57" stroke="#141414" stroke-width="1"/>
<text x="24.00" y="187.57" class="tk" text-anchor="end">4096</text>
<line x1="23.799999999999997" y1="172.10" x2="26.4" y2="172.10" stroke="#141414" stroke-width="1"/>
<text x="24.00" y="174.10" class="tk" text-anchor="end">8192</text>
<line x1="30.50" y1="279.9" x2="30.50" y2="281.9" stroke="#141414" stroke-width="1"/>
<text x="30.65" y="287.30" class="tk" text-anchor="middle">1983</text>
<line x1="47.15" y1="279.9" x2="47.15" y2="281.9" stroke="#141414" stroke-width="1"/>
<text x="47.30" y="287.30" class="tk" text-anchor="middle">1985</text>
<line x1="63.80" y1="279.9" x2="63.80" y2="281.9" stroke="#141414" stroke-width="1"/>
<text x="63.95" y="287.30" class="tk" text-anchor="middle">1987</text>
<line x1="80.45" y1="279.9" x2="80.45" y2="281.9" stroke="#141414" stroke-width="1"/>
<text x="80.60" y="287.30" class="tk" text-anchor="middle">1989</text>
<line x1="97.10" y1="279.9" x2="97.10" y2="281.9" stroke="#141414" stroke-width="1"/>
<text x="97.25" y="287.30" class="tk" text-anchor="middle">1991</text>
<line x1="113.75" y1="279.9" x2="113.75" y2="281.9" stroke="#141414" stroke-width="1"/>
<text x="113.90" y="287.30" class="tk" text-anchor="middle">1993</text>
<line x1="130.40" y1="279.9" x2="130.40" y2="281.9" stroke="#141414" stroke-width="1"/>
<text x="130.55" y="287.30" class="tk" text-anchor="middle">1995</text>
<line x1="147.05" y1="279.9" x2="147.05" y2="281.9" stroke="#141414" stroke-width="1"/>
<text x="147.20" y="287.30" class="tk" text-anchor="middle">1997</text>
<line x1="163.70" y1="279.9" x2="163.70" y2="281.9" stroke="#141414" stroke-width="1"/>
<text x="163.85" y="287.30" class="tk" text-anchor="middle">1999</text>
<line x1="180.35" y1="279.9" x2="180.35" y2="281.9" stroke="#141414" stroke-width="1"/>
<text x="180.50" y="287.30" class="tk" text-anchor="middle">2001</text>
<line x1="197.00" y1="279.9" x2="197.00" y2="281.9" stroke="#141414" stroke-width="1"/>
<text x="197.15" y="287.30" class="tk" text-anchor="middle">2003</text>
<line x1="213.65" y1="279.9" x2="213.65" y2="281.9" stroke="#141414" stroke-width="1"/>
<text x="213.80" y="287.30" class="tk" text-anchor="middle">2005</text>
<line x1="230.30" y1="279.9" x2="230.30" y2="281.9" stroke="#141414" stroke-width="1"/>
<text x="230.45" y="287.30" class="tk" text-anchor="middle">2007</text>
<text x="237.1" y="261.60" class="rl">90 days</text>
<rect x="28.00" y="176.8" width="5.0" height="1.50" fill="#2e2e2e" stroke="#000" stroke-width="1.3"/>
<line x1="28.00" y1="177.5" x2="33.00" y2="177.5" stroke="#000" stroke-width="1.1"/>
<line x1="38.83" y1="176.0" x2="38.83" y2="176.4" stroke="#000" stroke-width="1.4"/>
<line x1="36.83" y1="176.0" x2="40.83" y2="176.0" stroke="#000" stroke-width="1.5"/>
<line x1="38.83" y1="179.6" x2="38.83" y2="179.8" stroke="#000" stroke-width="1.4"/>
<rect x="36.33" y="176.4" width="5.0" height="3.20" fill="#2e2e2e" stroke="#000" stroke-width="1.3"/>
<line x1="36.33" y1="178.0" x2="41.33" y2="178.0" stroke="#000" stroke-width="1.1"/>
<line x1="47.15" y1="175.8" x2="47.15" y2="178.0" stroke="#000" stroke-width="1.4"/>
<line x1="45.15" y1="175.8" x2="49.15" y2="175.8" stroke="#000" stroke-width="1.5"/>
<rect x="44.65" y="178.0" width="5.0" height="3.10" fill="#2e2e2e" stroke="#000" stroke-width="1.3"/>
<line x1="44.65" y1="179.5" x2="49.65" y2="179.5" stroke="#000" stroke-width="1.1"/>
<line x1="55.47" y1="177.7" x2="55.47" y2="179.8" stroke="#000" stroke-width="1.4"/>
<line x1="53.47" y1="177.7" x2="57.47" y2="177.7" stroke="#000" stroke-width="1.5"/>
<rect x="52.97" y="179.8" width="5.0" height="2.80" fill="#2e2e2e" stroke="#000" stroke-width="1.3"/>
<line x1="52.97" y1="181.2" x2="57.97" y2="181.2" stroke="#000" stroke-width="1.1"/>
<line x1="63.80" y1="179.2" x2="63.80" y2="181.3" stroke="#000" stroke-width="1.4"/>
<line x1="61.80" y1="179.2" x2="65.80" y2="179.2" stroke="#000" stroke-width="1.5"/>
<rect x="61.30" y="181.3" width="5.0" height="2.60" fill="#2e2e2e" stroke="#000" stroke-width="1.3"/>
<line x1="61.30" y1="182.6" x2="66.30" y2="182.6" stroke="#000" stroke-width="1.1"/>
<line x1="72.12" y1="180.8" x2="72.12" y2="182.5" stroke="#000" stroke-width="1.4"/>
<line x1="70.12" y1="180.8" x2="74.12" y2="180.8" stroke="#000" stroke-width="1.5"/>
<rect x="69.62" y="182.5" width="5.0" height="2.80" fill="#2e2e2e" stroke="#000" stroke-width="1.3"/>
<line x1="69.62" y1="184.0" x2="74.62" y2="184.0" stroke="#000" stroke-width="1.1"/>
<line x1="80.45" y1="180.5" x2="80.45" y2="184.1" stroke="#000" stroke-width="1.4"/>
<line x1="78.45" y1="180.5" x2="82.45" y2="180.5" stroke="#000" stroke-width="1.5"/>
<rect x="77.95" y="184.1" width="5.0" height="3.00" fill="#2e2e2e" stroke="#000" stroke-width="1.3"/>
<line x1="77.95" y1="185.6" x2="82.95" y2="185.6" stroke="#000" stroke-width="1.1"/>
<line x1="88.77" y1="176.2" x2="88.77" y2="185.1" stroke="#000" stroke-width="1.4"/>
<line x1="86.77" y1="176.2" x2="90.77" y2="176.2" stroke="#000" stroke-width="1.5"/>
<rect x="86.27" y="185.1" width="5.0" height="4.00" fill="#737373" stroke="#000" stroke-width="1.3"/>
<line x1="86.27" y1="187.0" x2="91.27" y2="187.0" stroke="#000" stroke-width="1.1"/>
<line x1="97.10" y1="178.7" x2="97.10" y2="187.1" stroke="#000" stroke-width="1.4"/>
<line x1="95.10" y1="178.7" x2="99.10" y2="178.7" stroke="#000" stroke-width="1.5"/>
<rect x="94.60" y="187.1" width="5.0" height="4.00" fill="#737373" stroke="#000" stroke-width="1.3"/>
<line x1="94.60" y1="189.0" x2="99.60" y2="189.0" stroke="#000" stroke-width="1.1"/>
<line x1="105.42" y1="186.3" x2="105.42" y2="188.6" stroke="#000" stroke-width="1.4"/>
<line x1="103.42" y1="186.3" x2="107.42" y2="186.3" stroke="#000" stroke-width="1.5"/>
<line x1="105.42" y1="193.1" x2="105.42" y2="194.0" stroke="#000" stroke-width="1.4"/>
<rect x="102.92" y="188.6" width="5.0" height="4.50" fill="#737373" stroke="#000" stroke-width="1.3"/>
<line x1="102.92" y1="191.0" x2="107.92" y2="191.0" stroke="#000" stroke-width="1.1"/>
<line x1="113.75" y1="185.6" x2="113.75" y2="192.3" stroke="#000" stroke-width="1.4"/>
<line x1="111.75" y1="185.6" x2="115.75" y2="185.6" stroke="#000" stroke-width="1.5"/>
<rect x="111.25" y="192.3" width="5.0" height="4.00" fill="#737373" stroke="#000" stroke-width="1.3"/>
<line x1="111.25" y1="194.4" x2="116.25" y2="194.4" stroke="#000" stroke-width="1.1"/>
<line x1="122.07" y1="188.8" x2="122.07" y2="196.6" stroke="#000" stroke-width="1.4"/>
<line x1="120.07" y1="188.8" x2="124.07" y2="188.8" stroke="#000" stroke-width="1.5"/>
<rect x="119.57" y="196.6" width="5.0" height="3.00" fill="#2e2e2e" stroke="#000" stroke-width="1.3"/>
<line x1="119.57" y1="198.0" x2="124.57" y2="198.0" stroke="#000" stroke-width="1.1"/>
<line x1="130.40" y1="194.6" x2="130.40" y2="198.1" stroke="#000" stroke-width="1.4"/>
<line x1="128.40" y1="194.6" x2="132.40" y2="194.6" stroke="#000" stroke-width="1.5"/>
<line x1="130.40" y1="202.6" x2="130.40" y2="203.6" stroke="#000" stroke-width="1.4"/>
<rect x="127.90" y="198.1" width="5.0" height="4.50" fill="#737373" stroke="#000" stroke-width="1.3"/>
<line x1="127.90" y1="200.3" x2="132.90" y2="200.3" stroke="#000" stroke-width="1.1"/>
<line x1="138.72" y1="190.3" x2="138.72" y2="203.1" stroke="#000" stroke-width="1.4"/>
<line x1="136.72" y1="190.3" x2="140.72" y2="190.3" stroke="#000" stroke-width="1.5"/>
<rect x="136.22" y="203.1" width="5.0" height="4.50" fill="#737373" stroke="#000" stroke-width="1.3"/>
<line x1="136.22" y1="205.3" x2="141.22" y2="205.3" stroke="#000" stroke-width="1.1"/>
<line x1="147.05" y1="202.2" x2="147.05" y2="207.0" stroke="#000" stroke-width="1.4"/>
<line x1="145.05" y1="202.2" x2="149.05" y2="202.2" stroke="#000" stroke-width="1.5"/>
<line x1="147.05" y1="213.6" x2="147.05" y2="216.3" stroke="#000" stroke-width="1.4"/>
<line x1="145.05" y1="216.3" x2="149.05" y2="216.3" stroke="#000" stroke-width="1.5"/>
<rect x="144.55" y="207.0" width="5.0" height="6.60" fill="#737373" stroke="#000" stroke-width="1.3"/>
<line x1="144.55" y1="210.6" x2="149.55" y2="210.6" stroke="#000" stroke-width="1.1"/>
<line x1="155.38" y1="205.3" x2="155.38" y2="216.5" stroke="#000" stroke-width="1.4"/>
<line x1="153.38" y1="205.3" x2="157.38" y2="205.3" stroke="#000" stroke-width="1.5"/>
<line x1="155.38" y1="221.1" x2="155.38" y2="225.1" stroke="#000" stroke-width="1.4"/>
<line x1="153.38" y1="225.1" x2="157.38" y2="225.1" stroke="#000" stroke-width="1.5"/>
<rect x="152.88" y="216.5" width="5.0" height="4.60" fill="#737373" stroke="#000" stroke-width="1.3"/>
<line x1="152.88" y1="218.8" x2="157.88" y2="218.8" stroke="#000" stroke-width="1.1"/>
<line x1="163.70" y1="215.5" x2="163.70" y2="227.5" stroke="#000" stroke-width="1.4"/>
<line x1="161.70" y1="215.5" x2="165.70" y2="215.5" stroke="#000" stroke-width="1.5"/>
<line x1="163.70" y1="239.1" x2="163.70" y2="254.3" stroke="#000" stroke-width="1.4"/>
<line x1="161.70" y1="254.3" x2="165.70" y2="254.3" stroke="#000" stroke-width="1.5"/>
<rect x="161.20" y="227.5" width="5.0" height="11.60" fill="#737373" stroke="#000" stroke-width="1.3"/>
<line x1="161.20" y1="232.1" x2="166.20" y2="232.1" stroke="#000" stroke-width="1.1"/>
<line x1="172.02" y1="216.4" x2="172.02" y2="234.1" stroke="#000" stroke-width="1.4"/>
<line x1="170.02" y1="216.4" x2="174.02" y2="216.4" stroke="#000" stroke-width="1.5"/>
<line x1="172.02" y1="265.2" x2="172.02" y2="274.0" stroke="#000" stroke-width="1.4"/>
<line x1="170.02" y1="274.0" x2="174.02" y2="274.0" stroke="#000" stroke-width="1.5"/>
<rect x="169.52" y="234.1" width="5.0" height="31.10" fill="#737373" stroke="#000" stroke-width="1.3"/>
<line x1="169.52" y1="256.0" x2="174.52" y2="256.0" stroke="#000" stroke-width="1.1"/>
<line x1="180.35" y1="243.3" x2="180.35" y2="252.6" stroke="#000" stroke-width="1.4"/>
<line x1="178.35" y1="243.3" x2="182.35" y2="243.3" stroke="#000" stroke-width="1.5"/>
<rect x="177.85" y="252.6" width="5.0" height="14.50" fill="#737373" stroke="#000" stroke-width="1.3"/>
<line x1="177.85" y1="260.1" x2="182.85" y2="260.1" stroke="#000" stroke-width="1.1"/>
<line x1="188.67" y1="232.1" x2="188.67" y2="249.8" stroke="#000" stroke-width="1.4"/>
<line x1="186.67" y1="232.1" x2="190.67" y2="232.1" stroke="#000" stroke-width="1.5"/>
<line x1="188.67" y1="266.5" x2="188.67" y2="270.7" stroke="#000" stroke-width="1.4"/>
<line x1="186.67" y1="270.7" x2="190.67" y2="270.7" stroke="#000" stroke-width="1.5"/>
<rect x="186.17" y="249.8" width="5.0" height="16.70" fill="#737373" stroke="#000" stroke-width="1.3"/>
<line x1="186.17" y1="260.1" x2="191.17" y2="260.1" stroke="#000" stroke-width="1.1"/>
<line x1="197.00" y1="234.5" x2="197.00" y2="258.5" stroke="#000" stroke-width="1.4"/>
<line x1="195.00" y1="234.5" x2="199.00" y2="234.5" stroke="#000" stroke-width="1.5"/>
<line x1="197.00" y1="268.4" x2="197.00" y2="268.6" stroke="#000" stroke-width="1.4"/>
<rect x="194.50" y="258.5" width="5.0" height="9.90" fill="#737373" stroke="#000" stroke-width="1.3"/>
<line x1="194.50" y1="264.7" x2="199.50" y2="264.7" stroke="#000" stroke-width="1.1"/>
<line x1="205.32" y1="228.5" x2="205.32" y2="264.2" stroke="#000" stroke-width="1.4"/>
<line x1="203.32" y1="228.5" x2="207.32" y2="228.5" stroke="#000" stroke-width="1.5"/>
<line x1="205.32" y1="267.8" x2="205.32" y2="269.3" stroke="#000" stroke-width="1.4"/>
<rect x="202.82" y="264.2" width="5.0" height="3.60" fill="#737373" stroke="#000" stroke-width="1.3"/>
<line x1="202.82" y1="266.0" x2="207.82" y2="266.0" stroke="#000" stroke-width="1.1"/>
<line x1="213.65" y1="262.8" x2="213.65" y2="265.5" stroke="#000" stroke-width="1.4"/>
<line x1="211.65" y1="262.8" x2="215.65" y2="262.8" stroke="#000" stroke-width="1.5"/>
<rect x="211.15" y="265.5" width="5.0" height="2.00" fill="#2e2e2e" stroke="#000" stroke-width="1.3"/>
<line x1="211.15" y1="266.5" x2="216.15" y2="266.5" stroke="#000" stroke-width="1.1"/>
<line x1="221.97" y1="253.8" x2="221.97" y2="263.5" stroke="#000" stroke-width="1.4"/>
<line x1="219.97" y1="253.8" x2="223.97" y2="253.8" stroke="#000" stroke-width="1.5"/>
<line x1="221.97" y1="268.1" x2="221.97" y2="273.1" stroke="#000" stroke-width="1.4"/>
<line x1="219.97" y1="273.1" x2="223.97" y2="273.1" stroke="#000" stroke-width="1.5"/>
<rect x="219.47" y="263.5" width="5.0" height="4.60" fill="#737373" stroke="#000" stroke-width="1.3"/>
<line x1="219.47" y1="265.8" x2="224.47" y2="265.8" stroke="#000" stroke-width="1.1"/>
<line x1="230.30" y1="259.4" x2="230.30" y2="264.7" stroke="#000" stroke-width="1.4"/>
<line x1="228.30" y1="259.4" x2="232.30" y2="259.4" stroke="#000" stroke-width="1.5"/>
<rect x="227.80" y="264.7" width="5.0" height="3.40" fill="#2e2e2e" stroke="#000" stroke-width="1.3"/>
<line x1="227.80" y1="266.4" x2="232.80" y2="266.4" stroke="#000" stroke-width="1.1"/>
<line x1="27.0" y1="259.8" x2="234.6" y2="259.8" stroke="#000" stroke-width="1.3" stroke-dasharray="1.3 1.4"/>
<text x="0.1" y="164.8" class="pl">C</text>
<text x="7.2" y="224.55" class="at" text-anchor="middle" transform="rotate(-90 7.2 224.55)" style="font-size:7.65px">Age at First PCV-7 (Days)</text>
<line x1="293.1" y1="177.2" x2="293.1" y2="281.04999999999995" stroke="#000" stroke-width="1.3"/>
<line x1="292.45000000000005" y1="280.4" x2="494.7" y2="280.4" stroke="#000" stroke-width="1.3"/>
<line x1="290.5" y1="280.40" x2="293.1" y2="280.40" stroke="#141414" stroke-width="1"/>
<text x="290.70" y="282.40" class="tk" text-anchor="end">0.25</text>
<line x1="290.5" y1="265.71" x2="293.1" y2="265.71" stroke="#141414" stroke-width="1"/>
<text x="290.70" y="267.71" class="tk" text-anchor="end">0.5</text>
<line x1="290.5" y1="251.03" x2="293.1" y2="251.03" stroke="#141414" stroke-width="1"/>
<text x="290.70" y="253.03" class="tk" text-anchor="end">1</text>
<line x1="290.5" y1="236.34" x2="293.1" y2="236.34" stroke="#141414" stroke-width="1"/>
<text x="290.70" y="238.34" class="tk" text-anchor="end">2</text>
<line x1="290.5" y1="221.66" x2="293.1" y2="221.66" stroke="#141414" stroke-width="1"/>
<text x="290.70" y="223.66" class="tk" text-anchor="end">4</text>
<line x1="290.5" y1="206.97" x2="293.1" y2="206.97" stroke="#141414" stroke-width="1"/>
<text x="290.70" y="208.97" class="tk" text-anchor="end">8</text>
<line x1="290.5" y1="192.29" x2="293.1" y2="192.29" stroke="#141414" stroke-width="1"/>
<text x="290.70" y="194.29" class="tk" text-anchor="end">16</text>
<line x1="290.5" y1="177.60" x2="293.1" y2="177.60" stroke="#141414" stroke-width="1"/>
<text x="290.70" y="179.60" class="tk" text-anchor="end">32</text>
<line x1="297.30" y1="280.4" x2="297.30" y2="282.4" stroke="#141414" stroke-width="1"/>
<text x="297.45" y="287.80" class="tk" text-anchor="middle">1983</text>
<line x1="314.14" y1="280.4" x2="314.14" y2="282.4" stroke="#141414" stroke-width="1"/>
<text x="314.29" y="287.80" class="tk" text-anchor="middle">1985</text>
<line x1="330.98" y1="280.4" x2="330.98" y2="282.4" stroke="#141414" stroke-width="1"/>
<text x="331.13" y="287.80" class="tk" text-anchor="middle">1987</text>
<line x1="347.82" y1="280.4" x2="347.82" y2="282.4" stroke="#141414" stroke-width="1"/>
<text x="347.97" y="287.80" class="tk" text-anchor="middle">1989</text>
<line x1="364.66" y1="280.4" x2="364.66" y2="282.4" stroke="#141414" stroke-width="1"/>
<text x="364.81" y="287.80" class="tk" text-anchor="middle">1991</text>
<line x1="381.50" y1="280.4" x2="381.50" y2="282.4" stroke="#141414" stroke-width="1"/>
<text x="381.65" y="287.80" class="tk" text-anchor="middle">1993</text>
<line x1="398.34" y1="280.4" x2="398.34" y2="282.4" stroke="#141414" stroke-width="1"/>
<text x="398.49" y="287.80" class="tk" text-anchor="middle">1995</text>
<line x1="415.18" y1="280.4" x2="415.18" y2="282.4" stroke="#141414" stroke-width="1"/>
<text x="415.33" y="287.80" class="tk" text-anchor="middle">1997</text>
<line x1="432.02" y1="280.4" x2="432.02" y2="282.4" stroke="#141414" stroke-width="1"/>
<text x="432.17" y="287.80" class="tk" text-anchor="middle">1999</text>
<line x1="448.86" y1="280.4" x2="448.86" y2="282.4" stroke="#141414" stroke-width="1"/>
<text x="449.01" y="287.80" class="tk" text-anchor="middle">2001</text>
<line x1="465.70" y1="280.4" x2="465.70" y2="282.4" stroke="#141414" stroke-width="1"/>
<text x="465.85" y="287.80" class="tk" text-anchor="middle">2003</text>
<line x1="482.54" y1="280.4" x2="482.54" y2="282.4" stroke="#141414" stroke-width="1"/>
<text x="482.69" y="287.80" class="tk" text-anchor="middle">2005</text>
<text x="497.4" y="229.20" class="rl">3 years</text>
<line x1="297.30" y1="211.7" x2="297.30" y2="240.8" stroke="#000" stroke-width="1.4"/>
<line x1="295.30" y1="211.7" x2="299.30" y2="211.7" stroke="#000" stroke-width="1.5"/>
<line x1="297.30" y1="240.8" x2="297.30" y2="247.5" stroke="#000" stroke-width="1.4"/>
<line x1="295.30" y1="247.5" x2="299.30" y2="247.5" stroke="#000" stroke-width="1.5"/>
<line x1="294.30" y1="240.8" x2="300.30" y2="240.8" stroke="#000" stroke-width="1.2"/>
<line x1="305.72" y1="207.5" x2="305.72" y2="229.0" stroke="#000" stroke-width="1.4"/>
<line x1="303.72" y1="207.5" x2="307.72" y2="207.5" stroke="#000" stroke-width="1.5"/>
<line x1="305.72" y1="246.8" x2="305.72" y2="266.2" stroke="#000" stroke-width="1.4"/>
<line x1="303.72" y1="266.2" x2="307.72" y2="266.2" stroke="#000" stroke-width="1.5"/>
<rect x="303.22" y="229.0" width="5.0" height="17.80" fill="#737373" stroke="#000" stroke-width="1.3"/>
<line x1="303.22" y1="235.6" x2="308.22" y2="235.6" stroke="#000" stroke-width="1.1"/>
<line x1="314.14" y1="214.5" x2="314.14" y2="232.5" stroke="#000" stroke-width="1.4"/>
<line x1="312.14" y1="214.5" x2="316.14" y2="214.5" stroke="#000" stroke-width="1.5"/>
<rect x="311.64" y="232.5" width="5.0" height="4.50" fill="#737373" stroke="#000" stroke-width="1.3"/>
<line x1="311.64" y1="234.0" x2="316.64" y2="234.0" stroke="#000" stroke-width="1.1"/>
<line x1="322.56" y1="211.5" x2="322.56" y2="227.5" stroke="#000" stroke-width="1.4"/>
<line x1="320.56" y1="211.5" x2="324.56" y2="211.5" stroke="#000" stroke-width="1.5"/>
<rect x="320.06" y="227.5" width="5.0" height="9.40" fill="#737373" stroke="#000" stroke-width="1.3"/>
<line x1="320.06" y1="235.0" x2="325.06" y2="235.0" stroke="#000" stroke-width="1.1"/>
<line x1="330.98" y1="211.5" x2="330.98" y2="234.5" stroke="#000" stroke-width="1.4"/>
<line x1="328.98" y1="211.5" x2="332.98" y2="211.5" stroke="#000" stroke-width="1.5"/>
<line x1="330.98" y1="236.0" x2="330.98" y2="240.1" stroke="#000" stroke-width="1.4"/>
<line x1="328.98" y1="240.1" x2="332.98" y2="240.1" stroke="#000" stroke-width="1.5"/>
<rect x="328.48" y="234.5" width="5.0" height="1.50" fill="#2e2e2e" stroke="#000" stroke-width="1.3"/>
<line x1="328.48" y1="235.0" x2="333.48" y2="235.0" stroke="#000" stroke-width="1.1"/>
<line x1="339.40" y1="224.2" x2="339.40" y2="233.0" stroke="#000" stroke-width="1.4"/>
<line x1="337.40" y1="224.2" x2="341.40" y2="224.2" stroke="#000" stroke-width="1.5"/>
<rect x="336.90" y="233.0" width="5.0" height="4.30" fill="#737373" stroke="#000" stroke-width="1.3"/>
<line x1="336.90" y1="235.0" x2="341.90" y2="235.0" stroke="#000" stroke-width="1.1"/>
<line x1="347.82" y1="204.7" x2="347.82" y2="232.1" stroke="#000" stroke-width="1.4"/>
<line x1="345.82" y1="204.7" x2="349.82" y2="204.7" stroke="#000" stroke-width="1.5"/>
<rect x="345.32" y="232.1" width="5.0" height="5.00" fill="#737373" stroke="#000" stroke-width="1.3"/>
<line x1="345.32" y1="234.6" x2="350.32" y2="234.6" stroke="#000" stroke-width="1.1"/>
<line x1="356.24" y1="203.5" x2="356.24" y2="234.6" stroke="#000" stroke-width="1.4"/>
<line x1="354.24" y1="203.5" x2="358.24" y2="203.5" stroke="#000" stroke-width="1.5"/>
<rect x="353.74" y="234.6" width="5.0" height="2.70" fill="#2e2e2e" stroke="#000" stroke-width="1.3"/>
<line x1="353.74" y1="236.0" x2="358.74" y2="236.0" stroke="#000" stroke-width="1.1"/>
<line x1="364.66" y1="195.1" x2="364.66" y2="230.1" stroke="#000" stroke-width="1.4"/>
<line x1="362.66" y1="195.1" x2="366.66" y2="195.1" stroke="#000" stroke-width="1.5"/>
<rect x="362.16" y="230.1" width="5.0" height="6.50" fill="#737373" stroke="#000" stroke-width="1.3"/>
<line x1="362.16" y1="233.5" x2="367.16" y2="233.5" stroke="#000" stroke-width="1.1"/>
<line x1="373.08" y1="225.0" x2="373.08" y2="234.6" stroke="#000" stroke-width="1.4"/>
<line x1="371.08" y1="225.0" x2="375.08" y2="225.0" stroke="#000" stroke-width="1.5"/>
<line x1="373.08" y1="236.3" x2="373.08" y2="250.5" stroke="#000" stroke-width="1.4"/>
<line x1="371.08" y1="250.5" x2="375.08" y2="250.5" stroke="#000" stroke-width="1.5"/>
<rect x="370.58" y="234.6" width="5.0" height="1.70" fill="#2e2e2e" stroke="#000" stroke-width="1.3"/>
<line x1="370.58" y1="235.5" x2="375.58" y2="235.5" stroke="#000" stroke-width="1.1"/>
<line x1="381.50" y1="210.1" x2="381.50" y2="221.2" stroke="#000" stroke-width="1.4"/>
<line x1="379.50" y1="210.1" x2="383.50" y2="210.1" stroke="#000" stroke-width="1.5"/>
<rect x="379.00" y="221.2" width="5.0" height="15.40" fill="#737373" stroke="#000" stroke-width="1.3"/>
<line x1="379.00" y1="234.1" x2="384.00" y2="234.1" stroke="#000" stroke-width="1.1"/>
<line x1="389.92" y1="226.2" x2="389.92" y2="233.5" stroke="#000" stroke-width="1.4"/>
<line x1="387.92" y1="226.2" x2="391.92" y2="226.2" stroke="#000" stroke-width="1.5"/>
<rect x="387.42" y="233.5" width="5.0" height="4.10" fill="#737373" stroke="#000" stroke-width="1.3"/>
<line x1="387.42" y1="235.5" x2="392.42" y2="235.5" stroke="#000" stroke-width="1.1"/>
<line x1="398.34" y1="199.7" x2="398.34" y2="228.2" stroke="#000" stroke-width="1.4"/>
<line x1="396.34" y1="199.7" x2="400.34" y2="199.7" stroke="#000" stroke-width="1.5"/>
<rect x="395.84" y="228.2" width="5.0" height="8.00" fill="#737373" stroke="#000" stroke-width="1.3"/>
<line x1="395.84" y1="232.6" x2="400.84" y2="232.6" stroke="#000" stroke-width="1.1"/>
<line x1="406.76" y1="223.2" x2="406.76" y2="232.2" stroke="#000" stroke-width="1.4"/>
<line x1="404.76" y1="223.2" x2="408.76" y2="223.2" stroke="#000" stroke-width="1.5"/>
<rect x="404.26" y="232.2" width="5.0" height="4.40" fill="#737373" stroke="#000" stroke-width="1.3"/>
<line x1="404.26" y1="234.5" x2="409.26" y2="234.5" stroke="#000" stroke-width="1.1"/>
<line x1="415.18" y1="211.1" x2="415.18" y2="235.2" stroke="#000" stroke-width="1.4"/>
<line x1="413.18" y1="211.1" x2="417.18" y2="211.1" stroke="#000" stroke-width="1.5"/>
<rect x="412.68" y="235.2" width="5.0" height="1.60" fill="#2e2e2e" stroke="#000" stroke-width="1.3"/>
<line x1="412.68" y1="236.0" x2="417.68" y2="236.0" stroke="#000" stroke-width="1.1"/>
<line x1="423.60" y1="215.5" x2="423.60" y2="225.8" stroke="#000" stroke-width="1.4"/>
<line x1="421.60" y1="215.5" x2="425.60" y2="215.5" stroke="#000" stroke-width="1.5"/>
<rect x="421.10" y="225.8" width="5.0" height="9.40" fill="#737373" stroke="#000" stroke-width="1.3"/>
<line x1="421.10" y1="231.0" x2="426.10" y2="231.0" stroke="#000" stroke-width="1.1"/>
<line x1="432.02" y1="208.5" x2="432.02" y2="227.8" stroke="#000" stroke-width="1.4"/>
<line x1="430.02" y1="208.5" x2="434.02" y2="208.5" stroke="#000" stroke-width="1.5"/>
<rect x="429.52" y="227.8" width="5.0" height="7.40" fill="#737373" stroke="#000" stroke-width="1.3"/>
<line x1="429.52" y1="232.0" x2="434.52" y2="232.0" stroke="#000" stroke-width="1.1"/>
<line x1="440.44" y1="219.8" x2="440.44" y2="228.2" stroke="#000" stroke-width="1.4"/>
<line x1="438.44" y1="219.8" x2="442.44" y2="219.8" stroke="#000" stroke-width="1.5"/>
<rect x="437.94" y="228.2" width="5.0" height="8.00" fill="#737373" stroke="#000" stroke-width="1.3"/>
<line x1="437.94" y1="232.5" x2="442.94" y2="232.5" stroke="#000" stroke-width="1.1"/>
<line x1="448.86" y1="211.7" x2="448.86" y2="230.0" stroke="#000" stroke-width="1.4"/>
<line x1="446.86" y1="211.7" x2="450.86" y2="211.7" stroke="#000" stroke-width="1.5"/>
<rect x="446.36" y="230.0" width="5.0" height="5.80" fill="#737373" stroke="#000" stroke-width="1.3"/>
<line x1="446.36" y1="233.0" x2="451.36" y2="233.0" stroke="#000" stroke-width="1.1"/>
<line x1="457.28" y1="217.1" x2="457.28" y2="232.3" stroke="#000" stroke-width="1.4"/>
<line x1="455.28" y1="217.1" x2="459.28" y2="217.1" stroke="#000" stroke-width="1.5"/>
<line x1="457.28" y1="236.7" x2="457.28" y2="238.0" stroke="#000" stroke-width="1.4"/>
<rect x="454.78" y="232.3" width="5.0" height="4.40" fill="#737373" stroke="#000" stroke-width="1.3"/>
<line x1="454.78" y1="234.5" x2="459.78" y2="234.5" stroke="#000" stroke-width="1.1"/>
<line x1="465.70" y1="218.7" x2="465.70" y2="227.9" stroke="#000" stroke-width="1.4"/>
<line x1="463.70" y1="218.7" x2="467.70" y2="218.7" stroke="#000" stroke-width="1.5"/>
<rect x="463.20" y="227.9" width="5.0" height="8.40" fill="#737373" stroke="#000" stroke-width="1.3"/>
<line x1="463.20" y1="232.0" x2="468.20" y2="232.0" stroke="#000" stroke-width="1.1"/>
<line x1="474.12" y1="230.0" x2="474.12" y2="232.3" stroke="#000" stroke-width="1.4"/>
<line x1="472.12" y1="230.0" x2="476.12" y2="230.0" stroke="#000" stroke-width="1.5"/>
<rect x="471.62" y="232.3" width="5.0" height="4.00" fill="#737373" stroke="#000" stroke-width="1.3"/>
<line x1="471.62" y1="234.3" x2="476.62" y2="234.3" stroke="#000" stroke-width="1.1"/>
<line x1="482.54" y1="228.6" x2="482.54" y2="232.3" stroke="#000" stroke-width="1.4"/>
<line x1="480.54" y1="228.6" x2="484.54" y2="228.6" stroke="#000" stroke-width="1.5"/>
<rect x="480.04" y="232.3" width="5.0" height="4.00" fill="#737373" stroke="#000" stroke-width="1.3"/>
<line x1="480.04" y1="234.3" x2="485.04" y2="234.3" stroke="#000" stroke-width="1.1"/>
<rect x="488.46" y="234.3" width="5.0" height="3.00" fill="#2e2e2e" stroke="#000" stroke-width="1.3"/>
<line x1="488.46" y1="235.8" x2="493.46" y2="235.8" stroke="#000" stroke-width="1.1"/>
<line x1="293.70000000000005" y1="227.4" x2="494.7" y2="227.4" stroke="#000" stroke-width="1.3" stroke-dasharray="1.3 1.4"/>
<text x="266.1" y="164.2" class="pl">D</text>
<text x="272.8" y="227.4" class="at" text-anchor="middle" transform="rotate(-90 272.8 227.4)" style="font-size:7.45px">Age at First PPV-23 (Years)</text>
<text x="130.4" y="141.2" class="at" text-anchor="middle" style="font-size:7.6px">Year of Birth</text>
<text x="396.0" y="141.2" class="at" text-anchor="middle" style="font-size:7.6px">Year of Birth</text>
<text x="130.3" y="299.0" class="at" text-anchor="middle" style="font-size:7.6px">Year of Birth</text>
<text x="393.9" y="298.6" class="at" text-anchor="middle" style="font-size:7.2px">Year of Birth</text>
<line x1="176.3" y1="173.3" x2="176.3" y2="279.9" stroke="#000" stroke-width="1.2" stroke-dasharray="1.3 1.4"/>
<text x="154.0" y="171.3" class="rl">Licensure of PCV-7</text>
</svg>
</body></html>
